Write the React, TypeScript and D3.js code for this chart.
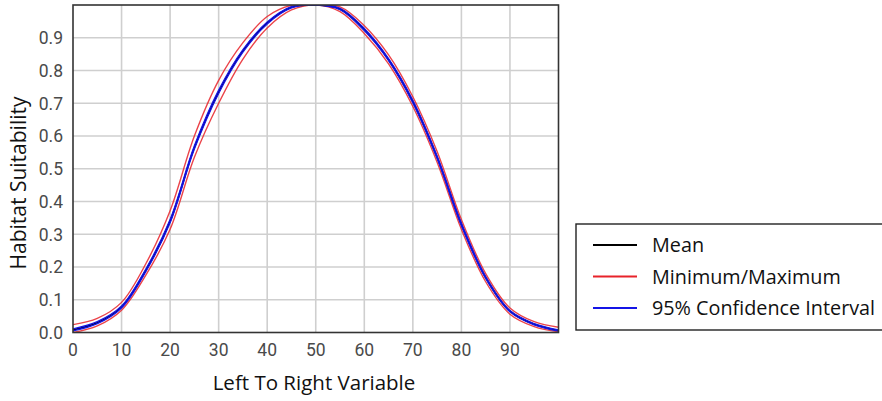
import React from "react";
import * as d3 from "d3";

// Response curve of habitat suitability across the left-to-right variable
const xValues = [0, 5, 10, 15, 20, 25, 30, 35, 40, 45, 50, 55, 60, 65, 70, 75, 80, 85, 90, 95, 100];
const meanValues = [0.008, 0.03, 0.078, 0.19, 0.34, 0.565, 0.735, 0.86, 0.945, 0.993, 1.0, 0.988, 0.925, 0.833, 0.705, 0.535, 0.33, 0.168, 0.065, 0.025, 0.006];
const maxValues = [0.024, 0.043, 0.092, 0.21, 0.372, 0.6, 0.77, 0.885, 0.965, 0.999, 1.0, 0.994, 0.937, 0.848, 0.72, 0.553, 0.345, 0.18, 0.075, 0.033, 0.016];
const minValues = [0.0, 0.02, 0.068, 0.175, 0.315, 0.535, 0.7, 0.835, 0.93, 0.985, 1.0, 0.98, 0.913, 0.82, 0.69, 0.52, 0.315, 0.155, 0.056, 0.018, 0.002];
const ciUpperValues = [0.011, 0.033, 0.081, 0.194, 0.345, 0.57, 0.74, 0.864, 0.948, 0.995, 1.0, 0.99, 0.928, 0.836, 0.709, 0.539, 0.334, 0.171, 0.067, 0.027, 0.008];
const ciLowerValues = [0.005, 0.027, 0.075, 0.186, 0.335, 0.56, 0.73, 0.856, 0.942, 0.991, 1.0, 0.986, 0.922, 0.83, 0.701, 0.531, 0.326, 0.165, 0.063, 0.023, 0.004];

const xTicks = [0, 10, 20, 30, 40, 50, 60, 70, 80, 90];
const yTicks = [0.0, 0.1, 0.2, 0.3, 0.4, 0.5, 0.6, 0.7, 0.8, 0.9];
const xGrid = [10, 20, 30, 40, 50, 60, 70, 80, 90];
const yGrid = [0.1, 0.2, 0.3, 0.4, 0.5, 0.6, 0.7, 0.8, 0.9];

const legendItems = [
  { label: "Mean", color: "#000000" },
  { label: "Minimum/Maximum", color: "#e8232a" },
  { label: "95% Confidence Interval", color: "#1414e6" },
];

const W = 882;
const H = 401;
const left = 73;
const right = 558.5;
const top = 5;
const bottom = 332.5;

export default function App() {
  const x = d3.scaleLinear().domain([0, 100]).range([left, right]);
  const y = d3.scaleLinear().domain([0, 1]).range([bottom, top]);

  const pathFor = (vals: number[]) =>
    d3
      .line<number>()
      .x((_, i) => x(xValues[i]))
      .y((v) => y(v))
      .curve(d3.curveCatmullRom.alpha(0.5))(vals) || "";

  const tickFont = "Roboto, 'Liberation Sans', sans-serif";
  const titleFont = "'Open Sans', 'Noto Sans', sans-serif";

  return (
    <svg
      width={W}
      height={H}
      style={{ position: "absolute", left: 0, top: 0, background: "#fff" }}
    >
      <defs>
        <clipPath id="plot-clip">
          <rect x={left} y={top} width={right - left} height={bottom - top} />
        </clipPath>
      </defs>

      {/* grid */}
      {xGrid.map((t) => (
        <line key={"gx" + t} x1={x(t)} x2={x(t)} y1={top} y2={bottom} stroke="#cfcfcf" strokeWidth={1.6} />
      ))}
      {yGrid.map((t) => (
        <line key={"gy" + t} x1={left} x2={right} y1={y(t)} y2={y(t)} stroke="#cfcfcf" strokeWidth={1.6} />
      ))}

      {/* series */}
      <g clipPath="url(#plot-clip)" fill="none" strokeLinejoin="round">
        <path d={pathFor(maxValues)} stroke="#e8232a" strokeWidth={1.4} opacity={0.85} />
        <path d={pathFor(minValues)} stroke="#e8232a" strokeWidth={1.4} opacity={0.85} />
        <path d={pathFor(meanValues)} stroke="#000" strokeWidth={1.6} />
        <path d={pathFor(ciUpperValues)} stroke="#1414e6" strokeWidth={1.3} />
        <path d={pathFor(ciLowerValues)} stroke="#1414e6" strokeWidth={1.3} />
      </g>

      {/* frame */}
      <rect x={left} y={top} width={right - left} height={bottom - top} fill="none" stroke="#333" strokeWidth={1.6} />

      {/* y tick labels */}
      {yTicks.map((t) => (
        <text
          key={"ty" + t}
          x={left - 10}
          y={y(t)}
          dy="0.36em"
          textAnchor="end"
          fontFamily={tickFont}
          fontSize={17.5}
          fill="#4a4a4a"
        >
          {t.toFixed(1)}
        </text>
      ))}

      {/* x tick labels */}
      {xTicks.map((t) => (
        <text
          key={"tx" + t}
          x={x(t)}
          y={355.5}
          textAnchor="middle"
          fontFamily={tickFont}
          fontSize={17.5}
          fill="#4a4a4a"
        >
          {t}
        </text>
      ))}

      {/* axis titles */}
      <text x={314} y={390} textAnchor="middle" fontFamily={titleFont} fontSize={20.5} fill="#111">
        Left To Right Variable
      </text>
      <text
        transform="translate(26,183) rotate(-90)"
        textAnchor="middle"
        fontFamily={titleFont}
        fontSize={21}
        fill="#111"
      >
        Habitat Suitability
      </text>

      {/* legend */}
      <rect x={576} y={224} width={320} height={106} fill="#fff" stroke="#222" strokeWidth={1.4} />
      {legendItems.map((item, i) => {
        const cy = 245 + i * 31.5;
        return (
          <g key={item.label}>
            <line x1={593} x2={637} y1={cy} y2={cy} stroke={item.color} strokeWidth={2.2} />
            <text x={652} y={cy} dy="0.36em" fontFamily={titleFont} fontSize={19.8} fill="#111">
              {item.label}
            </text>
          </g>
        );
      })}
    </svg>
  );
}
